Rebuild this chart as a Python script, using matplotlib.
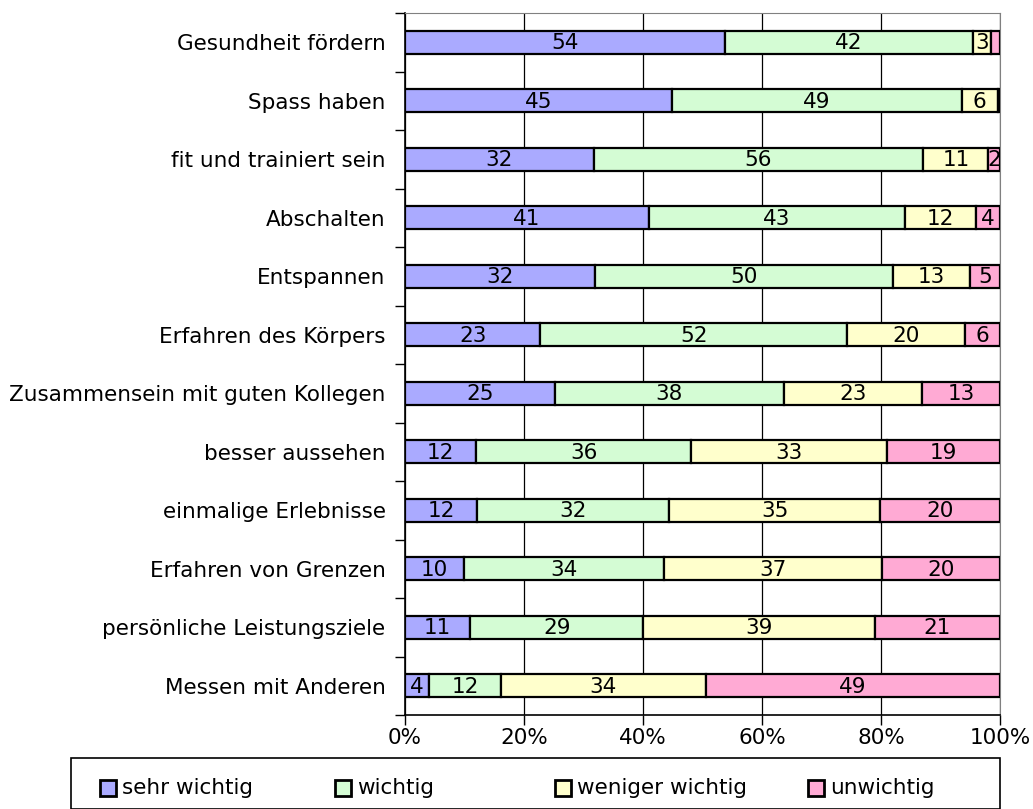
import matplotlib.pyplot as plt
from matplotlib.patches import Rectangle
import numpy as np

# Motive fuer sportliche Aktivitaet, Anteile in Prozent
motive = ["Gesundheit fördern", "Spass haben", "fit und trainiert sein",
          "Abschalten", "Entspannen", "Erfahren des Körpers",
          "Zusammensein mit guten Kollegen", "besser aussehen",
          "einmalige Erlebnisse", "Erfahren von Grenzen",
          "persönliche Leistungsziele", "Messen mit Anderen"]

sehr_wichtig = [54, 45, 32, 41, 32, 23, 25, 12, 12, 10, 11, 4]
wichtig = [42, 49, 56, 43, 50, 52, 38, 36, 32, 34, 29, 12]
weniger_wichtig = [3, 6, 11, 12, 13, 20, 23, 33, 35, 37, 39, 34]
unwichtig = [1.5, 0.4, 2, 4, 5, 6, 13, 19, 20, 20, 21, 49]

kategorien = ["sehr wichtig", "wichtig", "weniger wichtig", "unwichtig"]
farben = ["#aaaaff", "#d4fcd4", "#ffffcc", "#ffaad4"]

daten = np.array([sehr_wichtig, wichtig, weniger_wichtig, unwichtig], dtype=float)
anteile = daten / daten.sum(axis=0) * 100

fs = 15.5

fig = plt.figure(figsize=(10.33, 8.09), dpi=100)
ax = fig.add_axes([405 / 1033, 1 - 715 / 809, 595 / 1033, 702 / 809])

y = np.arange(len(motive))
links = np.zeros(len(motive))
for k in range(4):
    ax.barh(y, anteile[k], left=links, height=0.4, color=farben[k],
            edgecolor="black", linewidth=1.6, zorder=3)
    for i in range(len(motive)):
        if daten[k, i] >= 2:
            ax.text(links[i] + anteile[k, i] / 2, y[i] + 0.02, "%d" % daten[k, i],
                    ha="center", va="center", fontsize=fs, zorder=4)
    links += anteile[k]

ax.set_xlim(0, 100)
ax.set_ylim(len(motive) - 0.5, -0.5)
ax.set_xticks([0, 20, 40, 60, 80, 100])
ax.set_xticklabels(["0%", "20%", "40%", "60%", "80%", "100%"], fontsize=fs)
ax.set_yticks(y)
ax.set_yticklabels(motive, fontsize=fs)
ax.set_yticks(np.arange(len(motive) + 1) - 0.5, minor=True)
ax.tick_params(axis="y", which="major", length=0, pad=14)
ax.tick_params(axis="y", which="minor", length=7, width=1, color="black")
ax.tick_params(axis="x", length=7, width=1, pad=2.5)
ax.grid(axis="x", color="black", linewidth=0.9, zorder=0)

ax.spines["top"].set_color("#808080")
ax.spines["right"].set_color("#808080")
ax.spines["left"].set_linewidth(1.2)
ax.spines["bottom"].set_linewidth(1.2)

# Legende unten im Kasten
W, H = 1033, 809
fig.patches.append(Rectangle((71 / W, 0), (1000 - 71) / W, (809 - 758) / H,
                             transform=fig.transFigure, facecolor="white",
                             edgecolor="black", linewidth=1.2))
legende_x = [100, 335, 555, 808]
for k in range(4):
    fig.patches.append(Rectangle((legende_x[k] / W, 1 - 796 / H), 16 / W, 16 / H,
                                 transform=fig.transFigure, facecolor=farben[k],
                                 edgecolor="black", linewidth=2))
    fig.text((legende_x[k] + 22) / W, 1 - 788 / H, kategorien[k],
             fontsize=fs, va="center", ha="left")

fig.savefig("out.png", dpi=100)
